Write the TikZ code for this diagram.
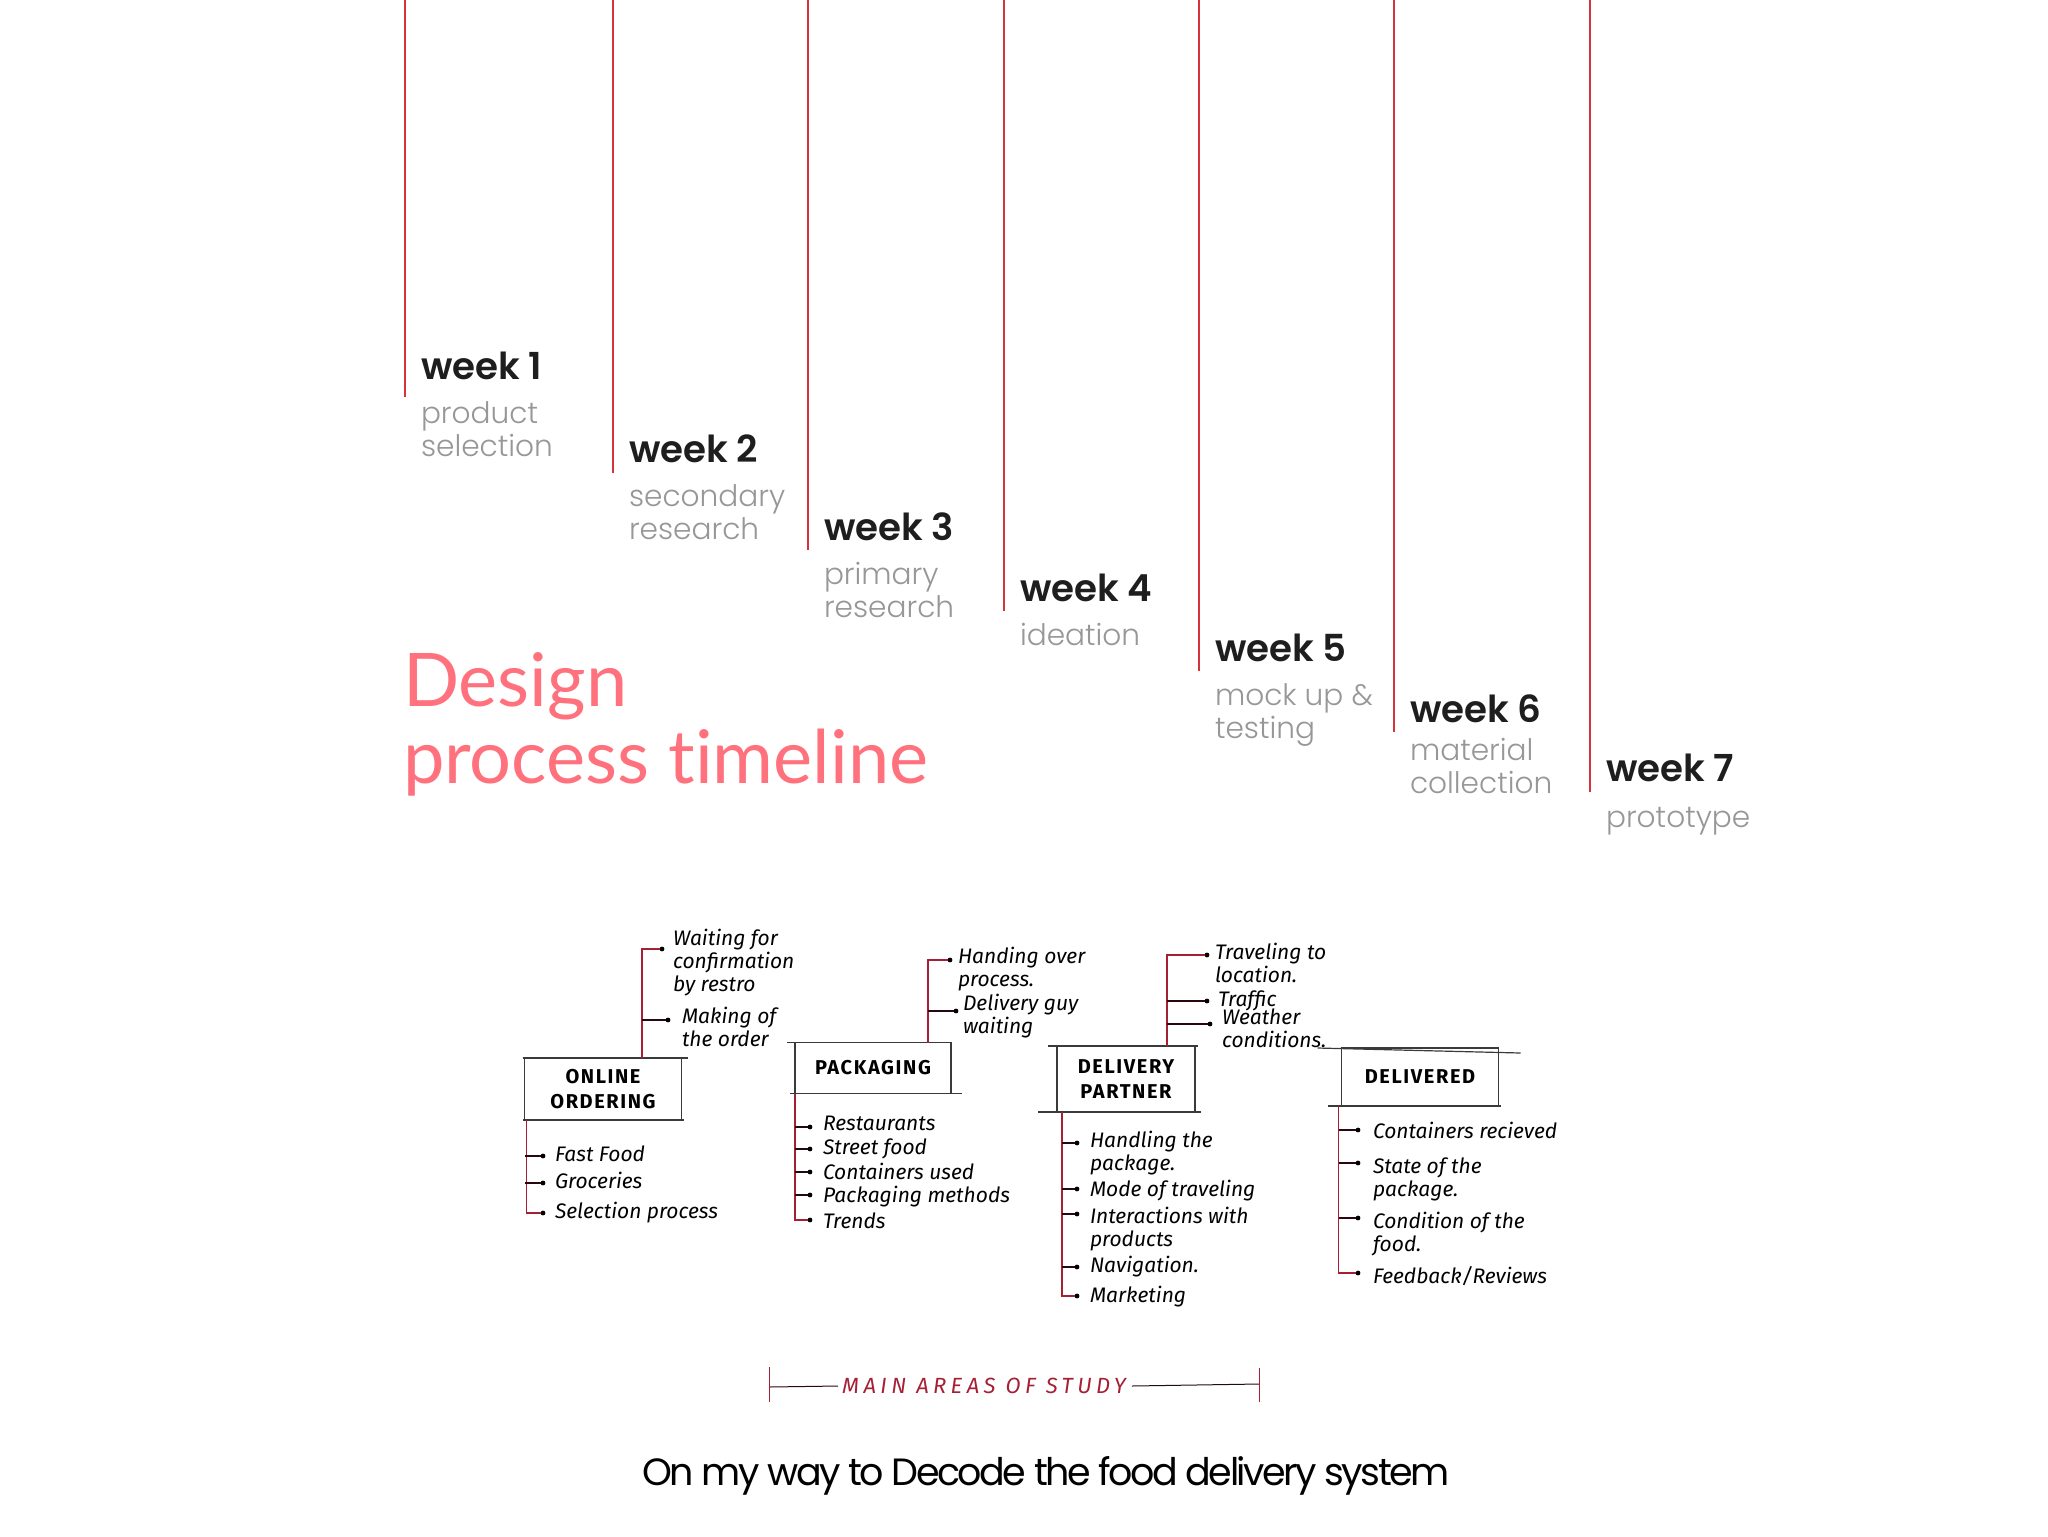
\documentclass[tikz,border=0pt]{standalone}
\usepackage{fontspec}
\setmainfont{Poppins}
\newfontfamily\weekfont{Poppins SemiBold}
\newfontfamily\subfont{Poppins Light}
\newfontfamily\titlefont{Lato}[Ligatures=NoCommon]
\newfontfamily\handfont{Fira Sans}
\usetikzlibrary{positioning}
\definecolor{weekred}{HTML}{D5333B}
\definecolor{titlepink}{HTML}{FF717D}
\definecolor{ink}{HTML}{1E1E1E}
\definecolor{subgray}{HTML}{979797}
\definecolor{pencil}{HTML}{3A3A3A}
\definecolor{stemred}{HTML}{A52035}
\tikzset{
  every node/.style={inner sep=0pt, outer sep=0pt},
  weekline/.style={weekred, line width=1.1pt},
  weeknum/.style={anchor=base west, text=ink, font=\weekfont\fontsize{18.6}{23}\selectfont},
  weeksub/.style={anchor=base west, align=left, text=subgray, font=\subfont\fontsize{14.8}{16.5}\selectfont},
  areabox/.style={draw=pencil, line width=0.6pt, align=center,
    font=\handfont\bfseries\fontsize{10}{12.5}\selectfont\addfontfeature{LetterSpace=8}},
  pencilline/.style={pencil, line width=0.6pt},
  stem/.style={stemred, line width=0.7pt},
  twig/.style={black!75!stemred, line width=0.7pt},
  dot/.style={circle, fill=black, minimum size=2.4pt},
  item/.style={anchor=base west, align=left, font=\handfont\itshape\fontsize{10.5}{11.5}\selectfont},
}

\begin{document}
\begin{tikzpicture}[x=0.5pt, y=-0.5pt]
  \useasboundingbox (0,0) rectangle (2048,1536);

  % weeks (\l = baseline of the last subtitle line)
  \foreach \n/\x/\e/\b/\l/\sub in {1/405/397/379/77/{product\\selection},
      2/613/473/462/77/{secondary\\research}, 3/808/550/540/77/{primary\\research},
      4/1004/611/601/44/{ideation}, 5/1199/671/661/77/{mock up \&\\testing},
      6/1394/732/722/71/{material\\collection}, 7/1590/792/781/46/{prototype}} {
    \draw[weekline] (\x,0) -- (\x,\e);
    \node[weeknum] (w\n) at (\x+16,\b) {week \n};
    \node[weeksub] (s\n) at (\x+16,\b+\l) {\sub};
  }

  \node[anchor=base west, align=left, text=titlepink,
    font=\titlefont\fontsize{37}{38.5}\selectfont] (title) at (403,783)
    {Design\\process timeline};

  % online ordering
  \node[areabox, minimum width=78.5pt, minimum height=31pt] (oo) at (603,1089) {ONLINE\\ORDERING};
  \draw[pencilline] ([xshift=-1pt]oo.north west) -- ([xshift=3pt]oo.north east);
  \draw[pencilline] ([xshift=-1pt]oo.south west) -- ([xshift=1pt]oo.south east);
  \coordinate (ooup) at ([xshift=19.5pt]oo.north);
  \node[dot] (oo1b) at (662,949) {};
  \node[item] (oo1) at (673,991) {Waiting for\\confirmation\\by restro};
  \node[dot] (oo2b) at (668,1020) {};
  \node[item] (oo2) at (682,1046) {Making of\\the order};
  \draw[stem] (oo.north -| ooup) |- (oo1b);
  \draw[twig] (oo2b -| ooup) -- (oo2b);
  \node[dot] (oo3b) at (543,1156) {};
  \node[item] (oo3) at (555,1161) {Fast Food};
  \node[dot] (oo4b) at (543,1183) {};
  \node[item] (oo4) at (555,1188) {Groceries};
  \node[dot] (oo5b) at (543,1213) {};
  \node[item] (oo5) at (555,1218) {Selection process};
  \draw[stem] ([xshift=1pt]oo.south west) |- (oo5b);
  \foreach \i in {3,4} \draw[twig] (oo\i b -| oo.south west) -- (oo\i b);

  % packaging
  \node[areabox, minimum width=78pt, minimum height=25.5pt] (pk) at (873,1068) {PACKAGING};
  \draw[pencilline] ([xshift=-4pt]pk.north west) -- ([xshift=0.5pt]pk.north east);
  \draw[pencilline] ([xshift=-2.5pt]pk.south west) -- ([xshift=5.5pt]pk.south east);
  \coordinate (pkup) at ([xshift=27.5pt]pk.north);
  \node[dot] (pk1b) at (950,960) {};
  \node[item] (pk1) at (958,986) {Handing over\\process.};
  \node[dot] (pk2b) at (956,1011) {};
  \node[item] (pk2) at (963,1033) {Delivery guy\\waiting};
  \draw[stem] (pk.north -| pkup) |- (pk1b);
  \draw[twig] (pk2b -| pkup) -- (pk2b);
  \node[dot] (pk3b) at (810,1127) {};
  \node[item] (pk3) at (823,1130) {Restaurants};
  \node[dot] (pk4b) at (810,1149) {};
  \node[item] (pk4) at (823,1154) {Street food};
  \node[dot] (pk5b) at (810,1172) {};
  \node[item] (pk5) at (823,1179) {Containers used};
  \node[dot] (pk6b) at (810,1195) {};
  \node[item] (pk6) at (823,1202) {Packaging methods};
  \node[dot] (pk7b) at (810,1220) {};
  \node[item] (pk7) at (823,1228) {Trends};
  \draw[stem] (pk.south west) |- (pk7b);
  \foreach \i in {3,...,6} \draw[twig] (pk\i b -| pk.south west) -- (pk\i b);

  % delivery partner
  \node[areabox, minimum width=69pt, minimum height=33pt] (dp) at (1126,1079) {DELIVERY\\PARTNER};
  \draw[pencilline] ([xshift=-4.5pt]dp.north west) -- ([xshift=1.5pt]dp.north east);
  \draw[pencilline] ([xshift=-9.5pt]dp.south west) -- ([xshift=3pt]dp.south east);
  \coordinate (dpup) at ([xshift=20.5pt]dp.north);
  \node[dot] (dp1b) at (1207,955) {};
  \node[item] (dp1) at (1215,982) {Traveling to\\location.};
  \node[dot] (dp2b) at (1207,1001) {};
  \node[item] (dp2) at (1218,1006) {Traffic};
  \node[dot] (dp3b) at (1210,1024) {};
  \node[item] (dp3) at (1222,1047) {Weather\\conditions.};
  \draw[stem] (dp.north -| dpup) |- (dp1b);
  \foreach \i in {2,3} \draw[twig] (dp\i b -| dpup) -- (dp\i b);
  \node[dot] (dp4b) at (1077,1143) {};
  \node[item] (dp4) at (1090,1170) {Handling the\\package.};
  \node[dot] (dp5b) at (1077,1189) {};
  \node[item] (dp5) at (1090,1196) {Mode of traveling};
  \node[dot] (dp6b) at (1077,1214) {};
  \node[item] (dp6) at (1090,1246) {Interactions with\\products};
  \node[dot] (dp7b) at (1077,1267) {};
  \node[item] (dp7) at (1090,1272) {Navigation.};
  \node[dot] (dp8b) at (1077,1296) {};
  \node[item] (dp8) at (1090,1302) {Marketing};
  \draw[stem] ([xshift=2.5pt]dp.south west) |- (dp8b);
  \foreach \i in {4,...,7} \draw[twig] ([xshift=2.5pt]dp\i b -| dp.south west) -- (dp\i b);

  % delivered
  \node[areabox, minimum width=78.5pt, minimum height=29pt] (dl) at (1420,1077) {DELIVERED};
  \draw[pencilline] ([xshift=-12pt]dl.north west) -- ([xshift=11pt,yshift=-2.5pt]dl.north east);
  \draw[pencilline] ([xshift=-7pt]dl.south west) -- ([xshift=1pt]dl.south east);
  \node[dot] (dl1b) at (1358,1130) {};
  \node[item] (dl1) at (1373,1138) {Containers recieved};
  \node[dot] (dl2b) at (1358,1163) {};
  \node[item] (dl2) at (1373,1196) {State of the\\package.};
  \node[dot] (dl3b) at (1358,1218) {};
  \node[item] (dl3) at (1373,1251) {Condition of the\\food.};
  \node[dot] (dl4b) at (1358,1273) {};
  \node[item] (dl4) at (1373,1283) {Feedback/Reviews};
  \draw[stem] ([xshift=-1.5pt]dl.south west) |- (dl4b);
  \foreach \i in {1,2,3} \draw[twig] ([xshift=-1.5pt]dl\i b -| dl.south west) -- (dl\i b);

  % main areas of study
  \node[text=stemred, font=\handfont\itshape\fontsize{11}{12}\selectfont] (study) at (984,1386)
    {\addfontfeature{LetterSpace=20}MAIN AREAS OF STUDY};
  \coordinate (sl) at (769,1387);
  \coordinate (sr) at (1259,1384);
  \draw[twig, line width=0.5pt] (sl) -- ([xshift=-2pt]study.west);
  \draw[twig, line width=0.5pt] ([xshift=3pt]study.east) -- (sr);
  \draw[stem, line width=0.5pt] ([yshift=10pt]sl) -- ([yshift=-7.5pt]sl);
  \draw[stem, line width=0.5pt] ([yshift=8pt]sr) -- ([yshift=-9pt]sr);

  \node[anchor=base, text=black, font=\fontsize{19}{23}\selectfont] (caption) at (1046,1485)
    {\addfontfeature{LetterSpace=-6.5}On my way to Decode the food delivery system};
\end{tikzpicture}
\end{document}
